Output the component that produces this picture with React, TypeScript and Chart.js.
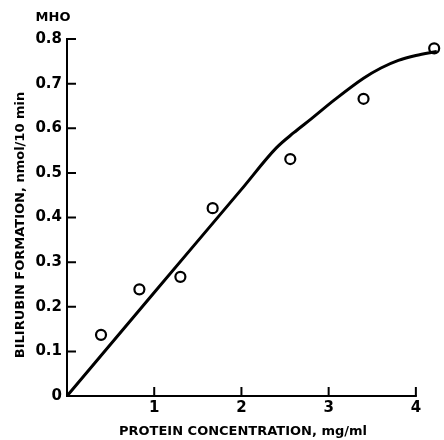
import React, { useEffect, useRef } from 'react';
import Chart from 'chart.js/auto';

const xTickValues = [0, 1, 2, 3, 4];
const yTickValues = [0, 0.1, 0.2, 0.3, 0.4, 0.5, 0.6, 0.7, 0.8];
const sampleX = [0.39, 0.83, 1.3, 1.67, 2.56, 3.4, 4.21];
const sampleY = [0.137, 0.239, 0.267, 0.421, 0.531, 0.666, 0.779];
const curveX = [0, 1, 2, 2.4, 2.6, 2.8, 3.07, 3.4, 3.6, 3.8, 4.0, 4.24];
const curveY = [0, 0.232, 0.463, 0.556, 0.59, 0.621, 0.664, 0.712, 0.735, 0.752, 0.763, 0.772];
const xTitle = 'PROTEIN CONCENTRATION, mg/ml';
const yTitle = 'BILIRUBIN FORMATION, nmol/10 min';
const cornerTitle = 'MHO';
const X_MAX = 4.24;
const Y_MAX = 0.8;

const FONT = '"DejaVu Sans", sans-serif';

const decorPlugin = {
  id: 'decor',
  afterDatasetsDraw(chart: any) {
    const ctx = chart.ctx;
    const xs = chart.scales.x;
    const ys = chart.scales.y;
    const x0 = xs.getPixelForValue(0);
    const y0 = ys.getPixelForValue(0);
    const xEnd = xs.getPixelForValue(xTickValues[xTickValues.length - 1]);
    const yEnd = ys.getPixelForValue(Y_MAX);
    ctx.save();
    ctx.strokeStyle = '#000';
    ctx.lineWidth = 2;
    ctx.lineCap = 'square';
    ctx.beginPath();
    ctx.moveTo(x0, yEnd);
    ctx.lineTo(x0, y0);
    ctx.lineTo(xEnd, y0);
    ctx.stroke();
    ctx.lineCap = 'butt';
    ctx.beginPath();
    yTickValues.forEach((v) => {
      if (v === 0) return;
      const py = ys.getPixelForValue(v);
      ctx.moveTo(x0, py);
      ctx.lineTo(x0 + 9, py);
    });
    xTickValues.forEach((v) => {
      if (v === 0) return;
      const px = xs.getPixelForValue(v);
      ctx.moveTo(px, y0);
      ctx.lineTo(px, y0 - 9);
    });
    ctx.stroke();

    ctx.fillStyle = '#000';
    ctx.font = `bold 13px ${FONT}`;
    ctx.textAlign = 'center';
    ctx.textBaseline = 'middle';
    ctx.fillText(cornerTitle, 53, 18);
    ctx.fillText(xTitle, 243, 432);
    ctx.save();
    ctx.translate(21, 225);
    ctx.rotate(-Math.PI / 2);
    ctx.fillText(yTitle, 0, 0);
    ctx.restore();
    ctx.restore();
  },
};

export default function App() {
  const ref = useRef<HTMLCanvasElement | null>(null);
  useEffect(() => {
    if (!ref.current) return;
    const chart = new Chart(ref.current, {
      type: 'scatter',
      data: {
        datasets: [
          {
            data: curveX.map((x, i) => ({ x, y: curveY[i] })),
            showLine: true,
            borderColor: '#000',
            borderWidth: 3,
            pointRadius: 0,
            cubicInterpolationMode: 'monotone',
            clip: false,
          } as any,
          {
            data: sampleX.map((x, i) => ({ x, y: sampleY[i] })),
            showLine: false,
            pointRadius: 5,
            pointBorderWidth: 2.2,
            borderColor: '#000',
            pointBorderColor: '#000',
            pointBackgroundColor: '#fff',
            backgroundColor: '#fff',
            clip: false,
          } as any,
        ],
      },
      options: {
        animation: false,
        responsive: false,
        devicePixelRatio: 1,
        layout: { padding: { top: 39, right: 0, left: 0, bottom: 0 } },
        plugins: { legend: { display: false }, tooltip: { enabled: false } },
        scales: {
          x: {
            type: 'linear',
            min: 0,
            max: X_MAX,
            afterBuildTicks: (s: any) => {
              s.ticks = xTickValues.map((v) => ({ value: v }));
            },
            afterFit: (s: any) => {
              s.height = 44;
            },
            grid: { display: false, drawTicks: false },
            border: { display: false },
            ticks: {
              padding: 3,
              color: '#000',
              font: { family: FONT, weight: 'bold', size: 15 },
              callback: (v: any) => (v === 0 ? '' : String(v)),
            },
          },
          y: {
            type: 'linear',
            min: 0,
            max: Y_MAX,
            afterBuildTicks: (s: any) => {
              s.ticks = yTickValues.map((v) => ({ value: v }));
            },
            afterFit: (s: any) => {
              s.width = 67;
            },
            grid: { display: false, drawTicks: false },
            border: { display: false },
            ticks: {
              padding: 5,
              color: '#000',
              font: { family: FONT, weight: 'bold', size: 15 },
              callback: (v: any) => (v === 0 ? '0' : Number(v).toFixed(1)),
            },
          },
        },
      } as any,
      plugins: [decorPlugin],
    });
    return () => chart.destroy();
  }, []);
  return (
    <div style={{ position: 'fixed', left: 0, top: 0, width: 444, height: 440, background: '#fff' }}>
      <canvas ref={ref} width={444} height={440} style={{ display: 'block', width: 444, height: 440 }} />
    </div>
  );
}
